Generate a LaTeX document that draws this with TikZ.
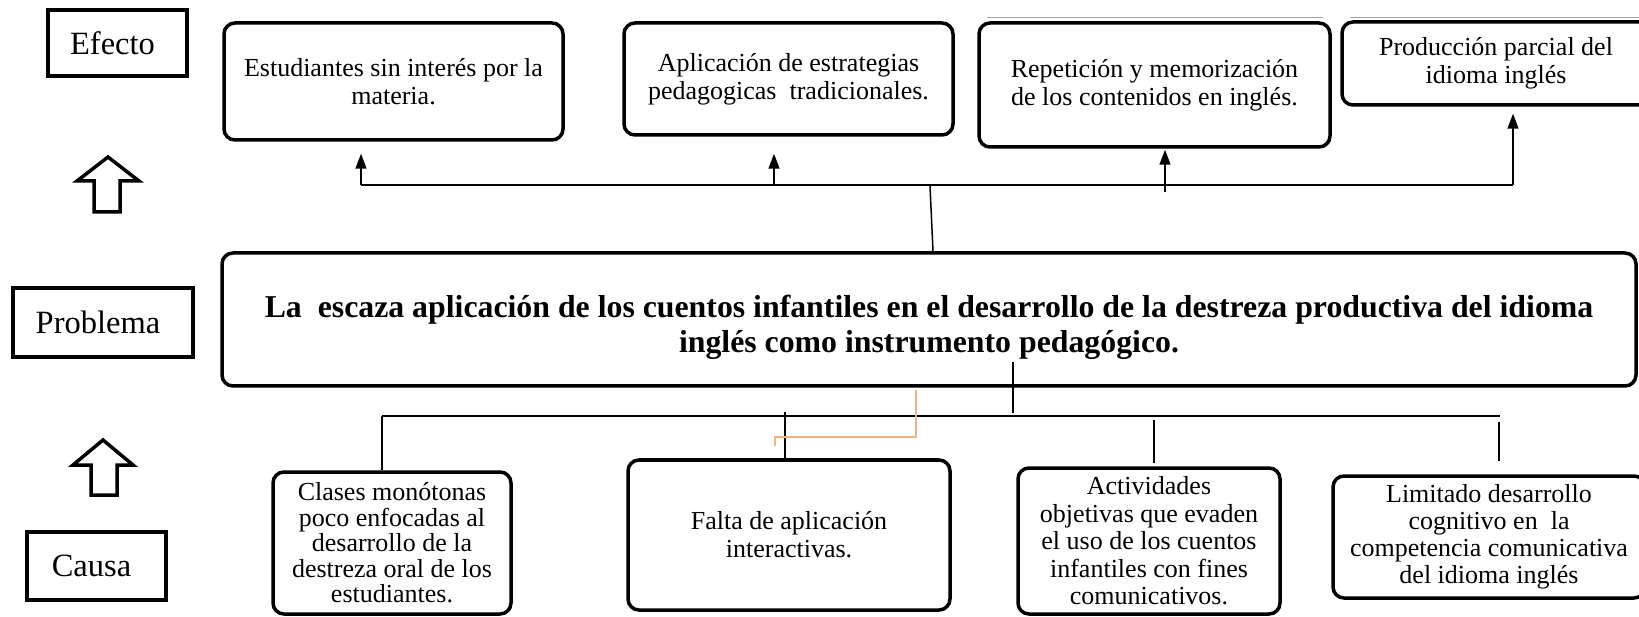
\documentclass[tikz,border=0pt]{standalone}
\usepackage{fontspec}
\setmainfont{Liberation Serif}
\usetikzlibrary{arrows.meta,calc}
\definecolor{salmon}{RGB}{244,177,131}
\tikzset{
  lblbox/.style={draw, line width=4pt, inner sep=0pt, font=\fontsize{32.5}{36}\selectfont},
  rbox/.style={draw, rounded corners=11pt, line width=3.5pt, inner sep=0pt, align=center, font=\fontsize{26}{28}\selectfont},
  probbox/.style={rbox, font=\fontsize{31.8}{34.5}\selectfont\bfseries},
  conn/.style={line width=1.5pt},
  bus/.style={line width=2pt},
  arr/.style={conn, -{Triangle[length=15pt,width=11pt]}},
  blockarrow/.style={line width=3.5pt, line join=miter},
  orangeln/.style={salmon, line width=1.5pt}
}
\begin{document}
\begin{tikzpicture}[x=1pt,y=-1pt]
\useasboundingbox (0,0) rectangle (1639,617);
\clip (0,0) rectangle (1639,617);

% side labels
\node[lblbox, minimum width=139pt, minimum height=66pt] (efecto) at (117.5,43) {Efecto\hspace*{10pt}};
\node[lblbox, minimum width=180pt, minimum height=69pt] (problema) at (103,322.5) {Problema\hspace*{10pt}};
\node[lblbox, minimum width=139pt, minimum height=68pt] (causa) at (96.5,566) {Causa\hspace*{10pt}};

% block arrows
\draw[blockarrow] (108,157) -- (139,181) -- (120,181) -- (120,212) -- (94,212) -- (94,181) -- (77,181) -- cycle;
\draw[blockarrow] (103,440) -- (133,465) -- (117,465) -- (117,495) -- (91,495) -- (91,465) -- (73,465) -- cycle;

% effects
\draw[gray!70, line width=1pt] (987,18) -- (1323,18);
\draw[gray!70, line width=1pt] (1350,18) -- (1650,18);
\node[rbox, minimum width=339pt, minimum height=117pt] (e1) at (393.5,81.5) {Estudiantes sin interés por la\\materia.};
\node[rbox, minimum width=329pt, minimum height=112pt] (e2) at (788.5,79) {Aplicación de estrategias\\pedagogicas~ tradicionales.};
\node[rbox, minimum width=351pt, minimum height=124pt] (e3) at (1154.5,85) {Repetición y memorización\\de los contenidos en inglés.};
\node[rbox, minimum width=308pt, minimum height=83pt] (e4) at (1496,63.5) {Producción parcial del\\idioma inglés};

% problem
\node[probbox, minimum width=1414pt, minimum height=133pt] (prob) at (929,319.5) {\rule{0pt}{38pt}La~ escaza aplicación de los cuentos infantiles en el desarrollo de la destreza productiva del idioma\\inglés como instrumento pedagógico.};

% causes
\node[rbox, minimum width=238pt, minimum height=142pt, font=\fontsize{26}{25.5}\selectfont] (c1) at (392,543) {Clases monótonas\\poco enfocadas al\\desarrollo de la\\destreza oral de los\\estudiantes.};
\node[rbox, minimum width=322pt, minimum height=150pt] (c2) at (789,535) {Falta de aplicación\\interactivas.};
\node[rbox, minimum width=262pt, minimum height=146pt, font=\fontsize{26}{27.5}\selectfont] (c3) at (1149,541) {Actividades\\objetivas que evaden\\el uso de los cuentos\\infantiles con fines\\comunicativos.};
\node[rbox, minimum width=312pt, minimum height=122pt, font=\fontsize{26}{27}\selectfont] (c4) at (1489,537) {Limitado desarrollo\\cognitivo en~ la\\competencia comunicativa\\del idioma inglés};

% top bus and arrows
\coordinate (tb1) at (361,185);
\coordinate (tb2) at (774,185);
\coordinate (tb3) at (1165,192);
\coordinate (tb4) at (1513,185);
\coordinate (tbm) at (930,186);
\coordinate (pm) at (933,0);
\draw[bus] (tb1) -- (tb4);
\draw[arr, shorten >=12pt] (tb1) -- (tb1 |- e1.south);
\draw[arr, shorten >=17pt] (tb2) -- (tb2 |- e2.south);
\draw[arr, shorten >=1pt] (tb3) -- (tb3 |- e3.south);
\draw[arr, shorten >=7pt] (tb4) -- (tb4 |- e4.south);
\draw[conn] (tbm) -- (pm |- prob.north);

% bottom bus
\coordinate (bb1) at (382,416);
\coordinate (bb4) at (1500,416);
\coordinate (pb) at (1013,362);
\draw[bus] (bb1) -- (bb4);
\draw[conn] (pb) -- ($(pb |- bb1)+(0,-3)$);
\coordinate (k1) at (382,416);
\coordinate (k2) at (785,412);
\coordinate (k3) at (1154,420);
\coordinate (k4) at (1499,422);
\draw[conn] (k1) -- (k1 |- c1.north);
\draw[conn] (k2) -- (k2 |- c2.north);
\draw[conn, shorten >=3pt] (k3) -- (k3 |- c3.north);
\draw[conn, shorten >=13pt] (k4) -- (k4 |- c4.north);

% orange connector
\coordinate (o1) at (916,0);
\coordinate (o2) at (775,437);
\draw[orangeln] ($(o1 |- prob.south)+(0,2)$) |- (o2) -- ++(0,9);
\end{tikzpicture}
\end{document}
